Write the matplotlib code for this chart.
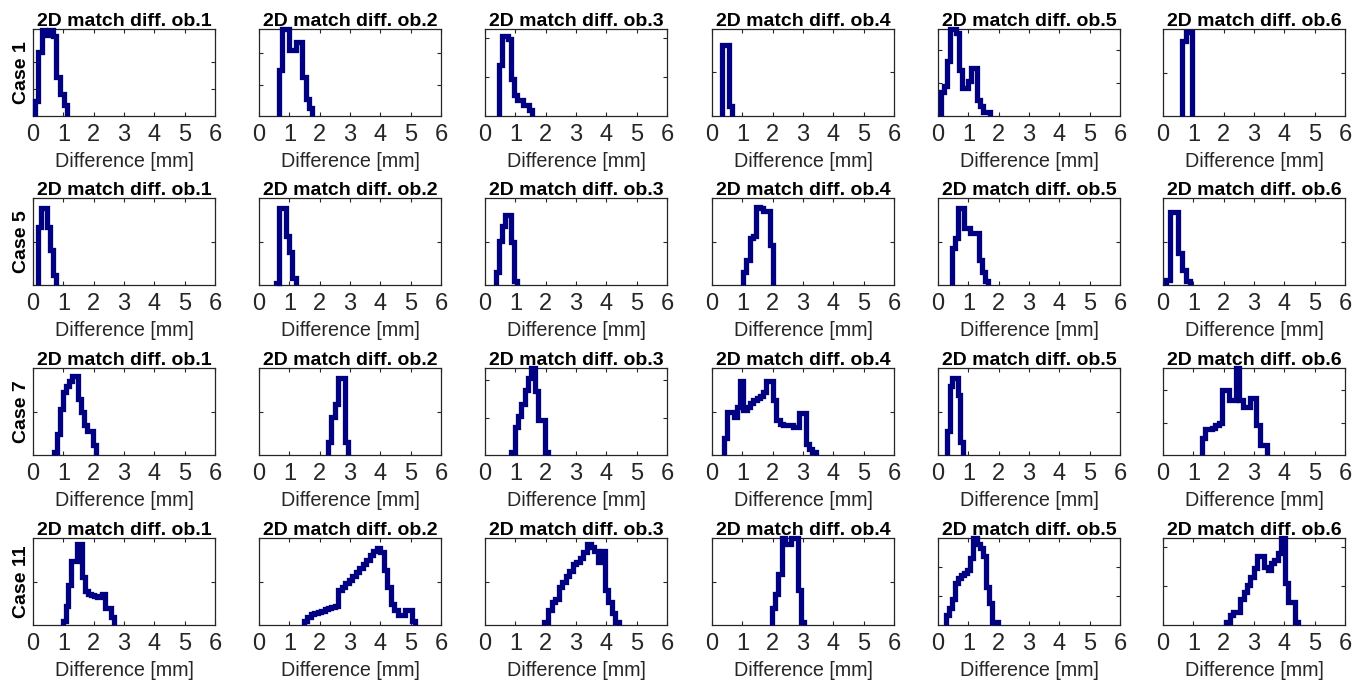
import matplotlib.pyplot as plt
import numpy as np

plt.rcParams['font.family'] = ['Liberation Sans', 'DejaVu Sans']

cases = ['Case 1', 'Case 5', 'Case 7', 'Case 11']
objects = ['ob.1', 'ob.2', 'ob.3', 'ob.4', 'ob.5', 'ob.6']

# histogram bins: first edge [mm], bin width [mm], heights (fraction of y-range)
case1_start = [0.05, 0.66, 0.46, 0.33, 0.10, 0.64]
case1_width = [0.12, 0.11, 0.10, 0.11, 0.10, 0.11]
case1_hist = [
    [0.17, 0.74, 0.99, 0.93, 0.99, 0.92, 0.45, 0.25, 0.13],
    [0.53, 1.0, 1.0, 0.76, 0.76, 0.85, 0.85, 0.45, 0.19, 0.09],
    [0.59, 0.92, 0.92, 0.88, 0.42, 0.24, 0.18, 0.18, 0.13, 0.13, 0.07],
    [0.82, 0.82, 0.11],
    [0.28, 0.35, 0.63, 1.0, 1.0, 0.95, 0.53, 0.32, 0.32, 0.40, 0.55, 0.55,
     0.18, 0.11, 0.05, 0.05],
    [0.86, 0.97, 0.97],
]
case1_yticks = [[0.31, 0.62], [0.36, 0.72], [0.45, 0.9], [0.51], [0.38, 0.76], [0.5]]

case5_start = [0.16, 0.55, 0.36, 1.02, 0.46, 0.10]
case5_width = [0.10, 0.11, 0.10, 0.11, 0.10, 0.13]
case5_hist = [
    [0.67, 0.88, 0.88, 0.67, 0.40, 0.12],
    [0.02, 0.88, 0.88, 0.56, 0.38, 0.08],
    [0.15, 0.51, 0.68, 0.81, 0.81, 0.50, 0.05],
    [0.15, 0.29, 0.54, 0.56, 0.90, 0.89, 0.85, 0.85, 0.46],
    [0.42, 0.54, 0.88, 0.88, 0.65, 0.65, 0.60, 0.60, 0.60, 0.29, 0.15, 0.05],
    [0.06, 0.84, 0.84, 0.37, 0.17, 0.05],
]
case5_yticks = [[0.5], [0.5], [0.5], [0.49], [0.49], [0.5]]

case7_start = [0.69, 2.27, 0.87, 0.39, 0.29, 1.27]
case7_width = [0.10, 0.11, 0.11, 0.108, 0.09, 0.113]
case7_hist = [
    [0.04, 0.24, 0.53, 0.72, 0.79, 0.85, 0.91, 0.91, 0.64, 0.50, 0.34, 0.28,
     0.28, 0.11],
    [0.15, 0.44, 0.59, 0.88, 0.88, 0.15],
    [0.03, 0.32, 0.45, 0.59, 0.75, 0.88, 1.0, 0.73, 0.40, 0.40, 0.04],
    [0.20, 0.50, 0.50, 0.44, 0.55, 0.85, 0.52, 0.55, 0.60, 0.63, 0.66, 0.68,
     0.72, 0.85, 0.85, 0.63, 0.40, 0.36, 0.35, 0.35, 0.34, 0.32, 0.32, 0.48,
     0.48, 0.13, 0.07, 0.03],
    [0.28, 0.79, 0.88, 0.88, 0.69, 0.15],
    [0.19, 0.30, 0.30, 0.31, 0.34, 0.37, 0.75, 0.75, 0.63, 0.63, 1.0, 0.63,
     0.55, 0.55, 0.65, 0.65, 0.34, 0.11, 0.11],
]
case7_yticks = [[0.5], [0.5], [0.43, 0.86], [0.5], [0.5], [0.37, 0.75]]

case11_start = [0.98, 1.47, 1.96, 1.98, 0.27, 2.09]
case11_width = [0.093, 0.115, 0.117, 0.105, 0.10, 0.113]
case11_hist = [
    [0.05, 0.22, 0.46, 0.73, 0.73, 0.93, 0.93, 0.55, 0.39, 0.36, 0.34, 0.33,
     0.32, 0.32, 0.36, 0.19, 0.19, 0.09],
    [0.05, 0.09, 0.13, 0.14, 0.15, 0.16, 0.18, 0.20, 0.21, 0.22, 0.40, 0.44,
     0.48, 0.52, 0.56, 0.61, 0.65, 0.70, 0.75, 0.80, 0.85, 0.89, 0.84, 0.63,
     0.44, 0.24, 0.17, 0.12, 0.12, 0.17, 0.17, 0.05],
    [0.04, 0.17, 0.26, 0.30, 0.44, 0.50, 0.56, 0.62, 0.70, 0.72, 0.77, 0.84,
     0.93, 0.90, 0.85, 0.72, 0.85, 0.40, 0.26, 0.14, 0.04],
    [0.19, 0.36, 0.59, 1.0, 0.93, 0.93, 1.0, 1.0, 0.40, 0.04],
    [0.11, 0.20, 0.30, 0.48, 0.54, 0.58, 0.60, 0.63, 0.77, 1.0, 0.93, 0.89,
     0.79, 0.44, 0.25, 0.04, 0.04],
    [0.04, 0.11, 0.15, 0.15, 0.30, 0.38, 0.46, 0.55, 0.65, 0.79, 0.79, 0.67,
     0.63, 0.71, 0.75, 0.83, 1.0, 0.48, 0.26, 0.26, 0.04],
]
case11_yticks = [[0.5], [0.5], [0.5], [0.5], [0.33, 0.67], [0.45, 0.9]]

starts = [case1_start, case5_start, case7_start, case11_start]
widths = [case1_width, case5_width, case7_width, case11_width]
hists = [case1_hist, case5_hist, case7_hist, case11_hist]
yticks = [case1_yticks, case5_yticks, case7_yticks, case11_yticks]

W, H = 1367, 685
col_left = [33, 259, 485, 712, 938, 1163]
row_top = [29, 198, 368, 538]
ax_w, ax_h = 182, 87

fig = plt.figure(figsize=(W / 100, H / 100), dpi=100)
navy = '#000080'
grey = '#262626'

for r in range(4):
    for c in range(6):
        ax = fig.add_axes([col_left[c] / W, 1 - (row_top[r] + ax_h) / H, ax_w / W, ax_h / H])
        h = np.array(hists[r][c])
        edges = starts[r][c] + widths[r][c] * np.arange(len(h) + 1)
        ax.stairs(h, edges, baseline=0, color=navy, lw=3.8, joinstyle='miter', clip_on=False, zorder=3)
        ax.set_xlim(0, 6)
        ax.set_ylim(0, 1)
        ax.set_xticks(range(7))
        ax.set_yticks(yticks[r][c])
        ax.set_yticklabels([])
        ax.tick_params(direction='in', top=True, right=True, length=3, width=0.8,
                       colors=grey, labelsize=17, pad=6)
        for s in ax.spines.values():
            s.set_color(grey)
            s.set_linewidth(0.9)
        ax.set_title('2D match diff. ' + objects[c], fontsize=14, fontweight='bold', pad=2)
        ax.set_xlabel('Difference [mm]', fontsize=14.2, color=grey, labelpad=4)
        if c == 0:
            ax.set_ylabel(cases[r], fontsize=14, fontweight='bold', labelpad=-4)

fig.savefig('out.png', dpi=100)
